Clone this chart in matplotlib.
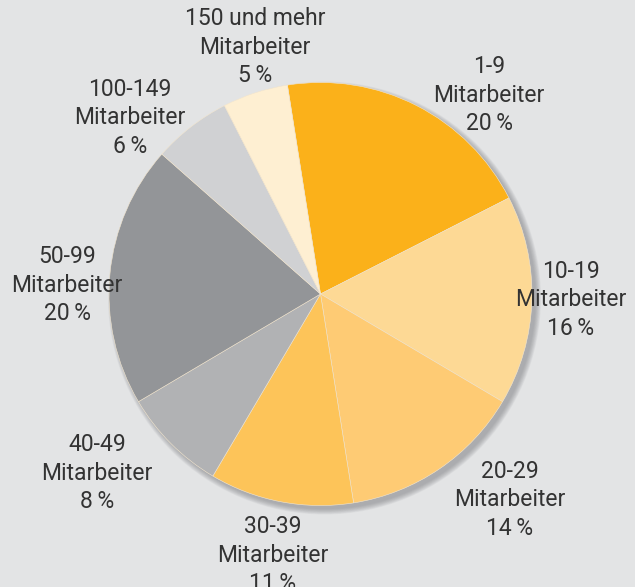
import numpy as np
import matplotlib.pyplot as plt
from matplotlib.patches import Circle

# Betriebsgroesse nach Mitarbeitern
groessen = ["1-9", "10-19", "20-29", "30-39", "40-49", "50-99", "100-149", "150 und mehr"]
anteile = [20, 16, 14, 11, 8, 20, 6, 5]
farben = ["#FBB11A", "#FDD995", "#FECB74", "#FDC459",
          "#B1B2B4", "#939598", "#D0D1D3", "#FEEFD2"]

# label block centres in pixel coords (x, y from top)
label_pos = [(489, 95), (571, 300), (510, 500), (273, 555),
             (97, 473), (67, 285), (130, 118), (255, 47)]

W, H = 635, 587
fig = plt.figure(figsize=(W / 100, H / 100), dpi=100)
fig.patch.set_facecolor("#E3E4E5")
ax = fig.add_axes([0, 0, 1, 1])

cx, cy, r = 320.5, H - 294, 211.5

# soft shadow
for i in range(10):
    ax.add_patch(Circle((cx + 4, cy - 4), r + 5 - i * 0.6, color="#7f8083",
                        alpha=0.07, lw=0, zorder=1))

wedges, _ = ax.pie(anteile, colors=farben, startangle=99, counterclock=False,
                   center=(cx, cy), radius=r, frame=True,
                   wedgeprops=dict(linewidth=0.4, edgecolor="#f3e6cf"))
for w in wedges:
    w.set_zorder(2)
ax.set_xlim(0, W)
ax.set_ylim(0, H)
ax.set_aspect("equal")
ax.axis("off")

for g, a, (x, y) in zip(groessen, anteile, label_pos):
    ax.text(x, H - y, f"{g}\nMitarbeiter\n{a}\u2009%", ha="center", va="center",
            fontsize=16.5, family=["Roboto", "DejaVu Sans"], color="#333333",
            linespacing=1.3, zorder=5)

fig.savefig("out.png", dpi=100, facecolor=fig.get_facecolor())
